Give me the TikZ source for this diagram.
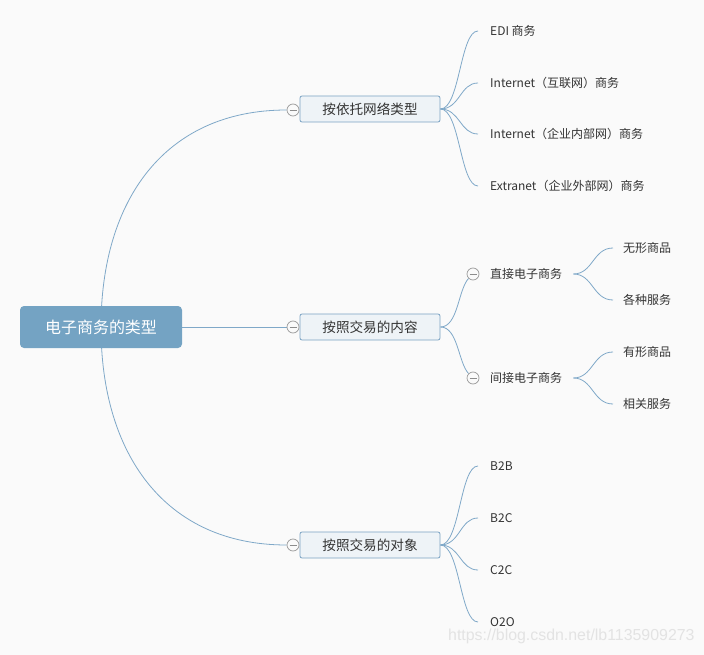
\documentclass[tikz,border=0pt]{standalone}
\usepackage{fontspec}
\setmainfont{Noto Sans CJK SC}
\newfontfamily\wmfont{Liberation Sans}
\pgfdeclarelayer{bg}
\pgfdeclarelayer{canvas}
\pgfsetlayers{canvas,bg,main}
\definecolor{bgc}{HTML}{FAFAFA}
\definecolor{rootc}{HTML}{74A3C3}
\definecolor{linec}{HTML}{7FA8C8}
\definecolor{boxfill}{HTML}{EEF3F7}
\definecolor{boxline}{HTML}{7AA2C2}
\definecolor{txt}{HTML}{333333}
\tikzset{
  rootbox/.style={draw=none, fill=rootc, rounded corners=4pt, minimum width=162pt, minimum height=42pt, text=white, font=\fontsize{16}{19}\selectfont, inner sep=0pt},
  branchbox/.style={draw=boxline, line width=0.8pt, fill=boxfill, rounded corners=2pt, minimum width=140pt, minimum height=26pt, text=txt, font=\fontsize{13.6}{16}\selectfont, inner sep=0pt},
  leaftext/.style={anchor=west, inner xsep=0pt, inner ysep=2pt, text=txt, font=\fontsize{12}{14}\selectfont},
  foldc/.style={circle, draw=gray!80, line width=0.7pt, fill=bgc, minimum size=12pt, inner sep=0pt,
    path picture={\draw[gray!90, line width=0.7pt] ([xshift=-3.5pt]path picture bounding box.center) -- ([xshift=3.5pt]path picture bounding box.center);}},
  conn/.style={draw=linec, line width=0.8pt},
}
\begin{document}
\begin{tikzpicture}[x=1pt,y=-1pt]
\begin{pgfonlayer}{canvas}
\fill[bgc] (0,0) rectangle (704,655);
\end{pgfonlayer}
\useasboundingbox (0,0) rectangle (704,655);

% root
\node[rootbox] (root) at (101,327) {电子商务的类型};

% branches
\node[branchbox] (b1) at (370,109) {按依托网络类型};
\node[branchbox] (b2) at (370,327) {按照交易的内容};
\node[branchbox] (b3) at (370,545) {按照交易的对象};
\node[foldc] (f1) at (293,110) {};
\node[foldc] (f2) at (293,327) {};
\node[foldc] (f3) at (293,545) {};

% branch 1 leaves
\node[leaftext] (l11) at (490,31) {EDI 商务};
\node[leaftext] (l12) at (490,83) {Internet（互联网）商务};
\node[leaftext] (l13) at (490,134) {Internet（企业内部网）商务};
\node[leaftext] (l14) at (490,186) {Extranet（企业外部网）商务};

% branch 2 sub-branches
\node[foldc] (f21) at (473,274) {};
\node[foldc] (f22) at (473,378) {};
\node[leaftext] (s21) at (490,274) {直接电子商务};
\node[leaftext] (s22) at (490,378) {间接电子商务};
\node[leaftext] (l211) at (623,248) {无形商品};
\node[leaftext] (l212) at (623,300) {各种服务};
\node[leaftext] (l221) at (623,352) {有形商品};
\node[leaftext] (l222) at (623,404) {相关服务};

% branch 3 leaves
\node[leaftext] (l31) at (490,466) {B2B};
\node[leaftext] (l32) at (490,518) {B2C};
\node[leaftext] (l33) at (490,570) {C2C};
\node[leaftext] (l34) at (490,622) {O2O};

% watermark
\node[anchor=west, inner sep=0pt, text=gray!22, font=\wmfont\fontsize{15.9}{17}\selectfont] (wm) at (448,636) {https://blog.csdn.net/lb1135909273};

\begin{pgfonlayer}{bg}
% root connections
\draw[conn] (root.center) .. controls (101,200) and (165,110) .. (f1.west);
\draw[conn] (root.east) -- (f2.west);
\draw[conn] (root.center) .. controls (101,454) and (165,545) .. (f3.west);

% branch 1
\foreach \n in {l11,l12,l13,l14}{
  \draw[conn] (b1.east) .. controls (460,109) and (460,109 |- \n.west) .. ([xshift=-12pt]\n.west);
}
% branch 2
\draw[conn] (b2.east) .. controls (458,327) and (458,290) .. (f21.south west);
\draw[conn] (b2.east) .. controls (458,327) and (458,362) .. (f22.north west);
\foreach \n in {l211,l212}{
  \draw[conn] ([xshift=11pt]s21.east) .. controls (593,274) and (593,274 |- \n.west) .. ([xshift=-10pt]\n.west);
}
\foreach \n in {l221,l222}{
  \draw[conn] ([xshift=11pt]s22.east) .. controls (593,378) and (593,378 |- \n.west) .. ([xshift=-10pt]\n.west);
}
% branch 3
\foreach \n in {l31,l32,l33,l34}{
  \draw[conn] (b3.east) .. controls (460,545) and (460,545 |- \n.west) .. ([xshift=-12pt]\n.west);
}
\end{pgfonlayer}
\end{tikzpicture}
\end{document}
